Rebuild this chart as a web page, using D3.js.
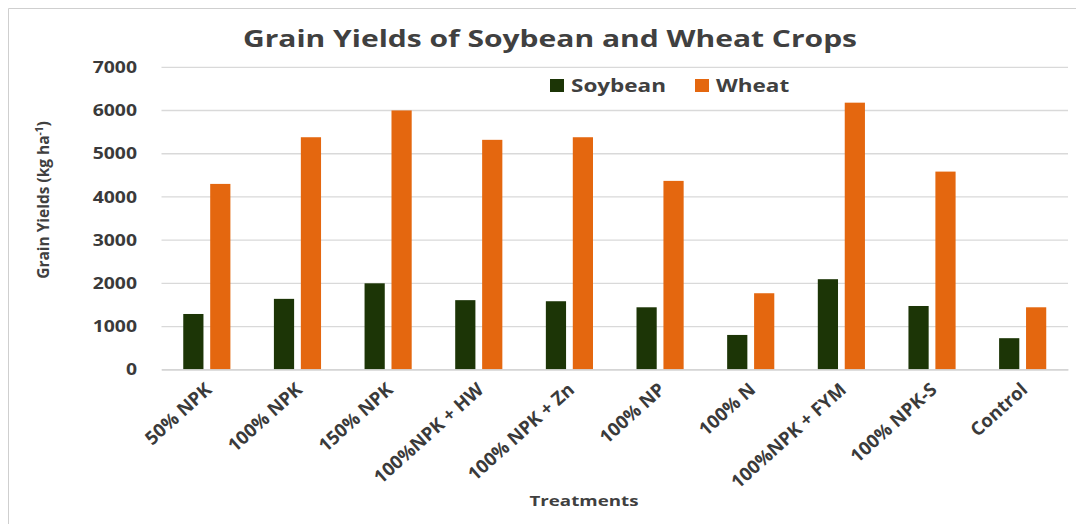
<!DOCTYPE html>
<meta charset="utf-8">
<title>Grain Yields</title>
<style>
  body { margin: 0; background: #fff; }
  text { font-family: "Open Sans", sans-serif; font-weight: 700; fill: #404040; }
  .grid line { stroke: #d9d9d9; stroke-width: 1.3px; }
  .grid .domain { display: none; }
</style>
<body>
<script src="https://cdn.jsdelivr.net/npm/d3@7"></script>
<script>

var treatments = ['50% NPK', '100% NPK', '150% NPK', '100%NPK + HW', '100% NPK + Zn',
                  '100% NP', '100% N', '100%NPK + FYM', '100% NPK-S', 'Control'];
var soybean = [1280, 1630, 1990, 1600, 1575, 1435, 795, 2085, 1465, 720];
var wheat   = [4290, 5370, 5990, 5310, 5370, 4360, 1760, 6170, 4575, 1435];
var seriesNames = ['Soybean', 'Wheat'];
var seriesColors = ['#1c3506', '#e4670f'];
var yTicks = [0, 1000, 2000, 3000, 4000, 5000, 6000, 7000];

// text in the picture is stretched sideways
var S = 1.25;

var W = 1076, H = 524;
var pl = 161.5, pr = 1068, pt = 66.8, pb = 369.3;

var svg = d3.select('body').append('svg').attr('width', W).attr('height', H);

// light frame, only top and left are visible
svg.append('path')
  .attr('d', 'M8.5,' + H + 'V8.5H' + W)
  .attr('fill', 'none').attr('stroke', '#cfcfcf');

var x0 = d3.scaleBand().domain(treatments).range([pl, pr])
  .paddingInner(0.48).paddingOuter(0.24);
var x1 = d3.scaleBand().domain(seriesNames).range([0, x0.bandwidth()]).paddingInner(0.25);
var y = d3.scaleLinear().domain([0, 7000]).range([pb, pt]);

// grid + y labels
var gy = svg.append('g').attr('class', 'grid')
  .attr('transform', 'translate(' + pl + ',0)')
  .call(d3.axisLeft(y).tickValues(yTicks).tickFormat(d3.format('d'))
    .tickSize(-(pr - pl)).tickPadding(0));
gy.selectAll('text')
  .attr('x', -24.5 / S)
  .attr('dy', '0.36em')
  .attr('transform', 'scale(' + S + ',1)')
  .style('font-size', '15.5px')
  .style('font-family', '"Open Sans", sans-serif')
  .style('font-weight', 700)
  .style('fill', '#3a3a3a');

// bars
var rows = treatments.map(function(t, i) { return {t: t, v: [soybean[i], wheat[i]]}; });
var groups = svg.selectAll('g.cat').data(rows).enter().append('g')
  .attr('class', 'cat')
  .attr('transform', function(d) { return 'translate(' + x0(d.t) + ',0)'; });
groups.selectAll('rect').data(function(d) {
    return d.v.map(function(v, k) { return {k: k, v: v}; });
  })
  .enter().append('rect')
  .attr('x', function(d) { return x1(seriesNames[d.k]); })
  .attr('width', x1.bandwidth())
  .attr('y', function(d) { return y(d.v); })
  .attr('height', function(d) { return y(0) - y(d.v); })
  .attr('fill', function(d) { return seriesColors[d.k]; });

// x axis
var gx = svg.append('g')
  .attr('transform', 'translate(0,' + pb + ')')
  .call(d3.axisBottom(x0).tickSize(0));
gx.select('.domain').attr('stroke', '#d0d0d0').attr('stroke-width', 1.3);
gx.selectAll('text')
  .attr('y', 0).attr('dy', null)
  .attr('text-anchor', 'end')
  .attr('transform', 'translate(6,22) rotate(-42)')
  .style('font-size', '18.5px')
  .style('font-family', '"Open Sans", sans-serif')
  .style('font-weight', 700)
  .style('fill', '#3a3a3a');

// title
svg.append('text')
  .attr('text-anchor', 'middle')
  .attr('transform', 'translate(550,47) scale(' + S + ',1)')
  .style('font-size', '24px')
  .text('Grain Yields of Soybean and Wheat Crops');

// legend
var legX = [550, 695];
var leg = svg.selectAll('g.leg').data(seriesNames).enter().append('g')
  .attr('class', 'leg')
  .attr('transform', function(d, i) { return 'translate(' + legX[i] + ',79)'; });
leg.append('rect').attr('width', 14).attr('height', 13)
  .attr('fill', function(d, i) { return seriesColors[i]; });
leg.append('text')
  .attr('transform', 'translate(21,13) scale(' + S + ',1)')
  .style('font-size', '18px')
  .text(function(d) { return d; });

// axis titles
var yt = svg.append('text')
  .attr('text-anchor', 'middle')
  .attr('transform', 'translate(49,200) scale(1.05,1) rotate(-90)')
  .style('font-size', '15.5px');
yt.append('tspan').text('Grain Yields (kg ha');
yt.append('tspan').attr('dy', -6).style('font-size', '10px').text('-1');
yt.append('tspan').attr('dy', 6).text(')');

svg.append('text')
  .attr('text-anchor', 'middle')
  .attr('transform', 'translate(584,506) scale(' + S + ',1)')
  .style('font-size', '15px')
  .text('Treatments');

</script>
</body>
